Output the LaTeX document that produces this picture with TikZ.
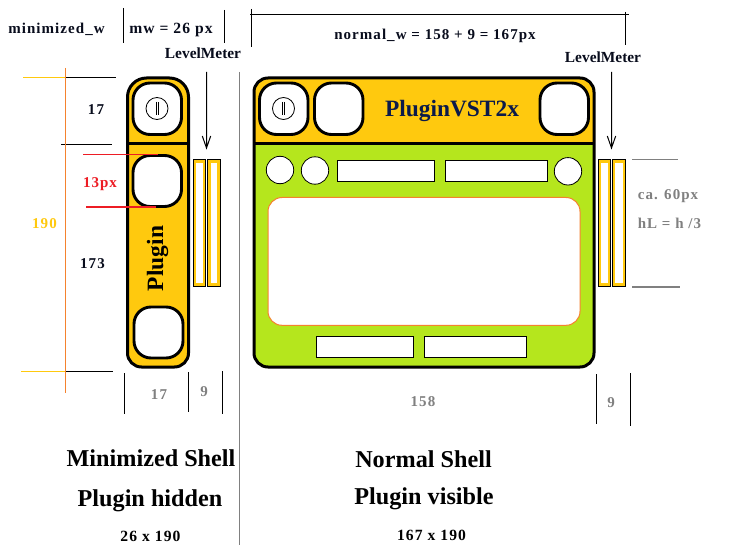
\documentclass[tikz,border=0pt]{standalone}
\usepackage{fontspec}
\setmainfont{Liberation Serif}
\newfontfamily\spaced[LetterSpace=7]{Liberation Serif}
\definecolor{shellyellow}{HTML}{FFC90E}
\definecolor{shellgreen}{HTML}{B5E61D}
\definecolor{dimorange}{HTML}{F5822E}
\definecolor{dimred}{HTML}{ED1C24}
\definecolor{dimgray}{HTML}{808080}
\definecolor{navy}{HTML}{0B1A4A}
\definecolor{ink}{HTML}{080C1C}
\tikzset{
  shell/.style={line width=3pt,draw=black},
  btn/.style={line width=2.9pt,draw=black,fill=white,rounded corners=17pt},
  thinline/.style={line width=1pt,draw=black},
  colorline/.style={line width=1.5pt,draw=#1},
  field/.style={line width=1pt,draw=black,fill=white},
  knob/.style={line width=.8pt,draw=black,fill=white},
  meter/.style={line width=1pt,draw=black,fill=shellyellow},
  meterin/.style={fill=white},
  small/.style={font=\spaced\bfseries\fontsize{15}{15}\selectfont,inner sep=0pt,text=#1},
  small/.default=ink,
  plainlabel/.style={font=\bfseries\fontsize{15.4}{15.4}\selectfont,inner sep=0pt,text=ink},
  sizelabel/.style={font=\spaced\bfseries\fontsize{15.6}{15.6}\selectfont,inner sep=0pt,text=black},
  big/.style={font=\bfseries\fontsize{24.2}{24.2}\selectfont,inner sep=0pt,text=black},
  levelarrow/.style={line width=1pt},
}
\begin{document}
\begin{tikzpicture}[x=1pt,y=-1pt]
\useasboundingbox[fill=white] (0,0) rectangle (742,559);
% top dimension lines
\draw[thinline] (123.5,8) -- (123.5,43);
\draw[thinline] (224.5,10) -- (224.5,43);
\draw[thinline] (250,15) -- (629,15);
\draw[thinline] (251.5,9) -- (251.5,47);
\draw[thinline] (625.5,12) -- (625.5,45);
\draw[colorline=dimgray] (239.5,72) -- (239.5,545);
% left dimensions
\draw[colorline=shellyellow] (23,77.5) -- (65,77.5);
\draw[thinline] (65,77.5) -- (116,77.5);
\draw[thinline] (61,144.5) -- (112,144.5);
\draw[colorline=shellyellow] (21,371.5) -- (65,371.5);
\draw[thinline] (66,371.5) -- (113,371.5);
\draw[colorline=dimorange] (65.5,68) -- (65.5,393);
% minimized shell
\fill[shellyellow] (127.5,220) [rounded corners=19pt] -- (127.5,78) -- (188.5,78) [sharp corners] -- (188.5,220) [rounded corners=14pt] -- (188.5,367) -- (127.5,367) [sharp corners] -- cycle;
\draw[shell] (127.5,220) [rounded corners=19pt] -- (127.5,78) -- (188.5,78) [sharp corners] -- (188.5,220) [rounded corners=14pt] -- (188.5,367) -- (127.5,367) [sharp corners] -- cycle;
\draw[line width=2.5pt] (127.5,143.5) -- (188.5,143.5);
\draw[btn] (133,83) rectangle (181.5,134.5);
\draw[btn] (133,155.5) rectangle (181.5,206.5);
\draw[btn] (134,307) rectangle (183,358);
\draw[knob] (157,108.5) circle (11);
\draw[line width=.7pt] (156,102) -- (156,115) (158,102) -- (158,115);
\draw[colorline=dimred] (83,154.5) -- (158,154.5);
\draw[colorline=dimred] (86,207) -- (156,207);
% minimized meters
\draw[meter] (193.8,159.5) rectangle (205.5,286.5);
\fill[meterin] (196,163) rectangle (203.3,282.7);
\draw[meter] (207.8,159.5) rectangle (220.5,286.5);
\fill[meterin] (210.7,163) rectangle (217.3,282.7);
% minimized bottom ticks
\draw[thinline] (124.5,373) -- (124.5,413.5);
\draw[thinline] (188.5,372) -- (188.5,411.5);
\draw[thinline] (222.5,371) -- (222.5,413.5);
% normal shell
\fill[shellgreen,rounded corners=14pt] (254,78) rectangle (594,367);
\fill[shellyellow] (254,143.5) [rounded corners=14pt] -- (254,78) -- (594,78) [sharp corners] -- (594,143.5) -- cycle;
\draw[shell,rounded corners=14pt] (254,78) rectangle (594,367);
\draw[line width=2.5pt] (254,143.5) -- (594,143.5);
\draw[btn] (259.5,83) rectangle (308,134.5);
\draw[btn] (314.5,83) rectangle (363,134.5);
\draw[btn] (540,83) rectangle (588.5,134.5);
\draw[knob] (283.5,108.5) circle (11);
\draw[line width=.7pt] (282.5,102) -- (282.5,115) (284.5,102) -- (284.5,115);
\draw[knob] (280,170) circle (13.7);
\draw[knob] (315,170.5) circle (13.7);
\draw[knob] (568,171.3) circle (13.7);
\draw[field] (337.5,160.5) rectangle (434.5,181.5);
\draw[field] (445.5,160.5) rectangle (547.5,181.5);
\draw[line width=1pt,draw=dimorange,fill=white,rounded corners=14pt] (268,197.5) rectangle (580,325.3);
\draw[field] (316.5,336.5) rectangle (413.5,357.5);
\draw[field] (424.5,336.5) rectangle (526.5,357.5);
% normal meters
\draw[meter] (598.8,159.5) rectangle (610.5,286.5);
\fill[meterin] (600.8,163) rectangle (608,282.7);
\draw[meter] (612.8,159.5) rectangle (625.5,286.5);
\fill[meterin] (615.3,163) rectangle (622.7,282.7);
% right dims
\draw[colorline=dimgray] (632,159.5) -- (678,159.5);
\draw[colorline=dimgray] (632,287) -- (680,287);
\draw[thinline] (596.5,374) -- (596.5,423.5);
\draw[thinline] (630.5,373) -- (630.5,426);
% arrows
\coordinate (tipa) at (206.5,148);
\coordinate (tipb) at (611.5,148);
\coordinate (taila) at (206.5,72);
\coordinate (tailb) at (611.5,72);
\draw[levelarrow] (taila) -- (tipa) (tipa) ++(-4.2,-12) -- (tipa) -- ++(4.2,-12);
\draw[levelarrow] (tailb) -- (tipb) (tipb) ++(-4.2,-12) -- (tipb) -- ++(4.2,-12);
% texts
\node[small] (tminw) at (56.5,29) {minimized\_w};
\node[sizelabel,text=ink] (tmw) at (171,29.5) {mw = 26 px};
\node[small] (tnormw) at (435,35.5) {normal\_w = 158 + 9 = 167px};
\node[plainlabel] (tla) at (203,53) {LevelMeter};
\node[plainlabel] (tlb) at (603,57) {LevelMeter};
\node[small] (t17a) at (96,110) {17};
\node[small=dimred] (t13) at (100,184) {13px};
\node[small=shellyellow] (t190) at (44.5,223.5) {190};
\node[small] (t173) at (92.5,264) {173};
\node[small=dimgray] (t17b) at (159,395) {17};
\node[small=dimgray] (t9a) at (204,392) {9};
\node[small=dimgray] (t158) at (423,402) {158};
\node[small=dimgray] (t9b) at (611,403) {9};
\node[small=dimgray] (tca) at (668,196) {ca. 60px};
\node[small=dimgray] (thl) at (669.5,223) {hL = h /3};
\node[big,rotate=90,font=\bfseries\fontsize{23.4}{23.4}\selectfont] (tplug) at (157.5,258.5) {Plugin};
\node[big,text=navy,font=\bfseries\fontsize{23.4}{23.4}\selectfont] (tvst) at (452,111) {PluginVST2x};
\node[big] (tms) at (151,458) {Minimized Shell};
\node[big] (tph) at (150,501) {Plugin hidden};
\node[sizelabel] (tsa) at (150.5,536) {26 x 190};
\node[big] (tns) at (423.5,459) {Normal Shell};
\node[big] (tpv) at (424,499) {Plugin visible};
\node[sizelabel] (tsb) at (431.5,535) {167 x 190};
\end{tikzpicture}
\end{document}
